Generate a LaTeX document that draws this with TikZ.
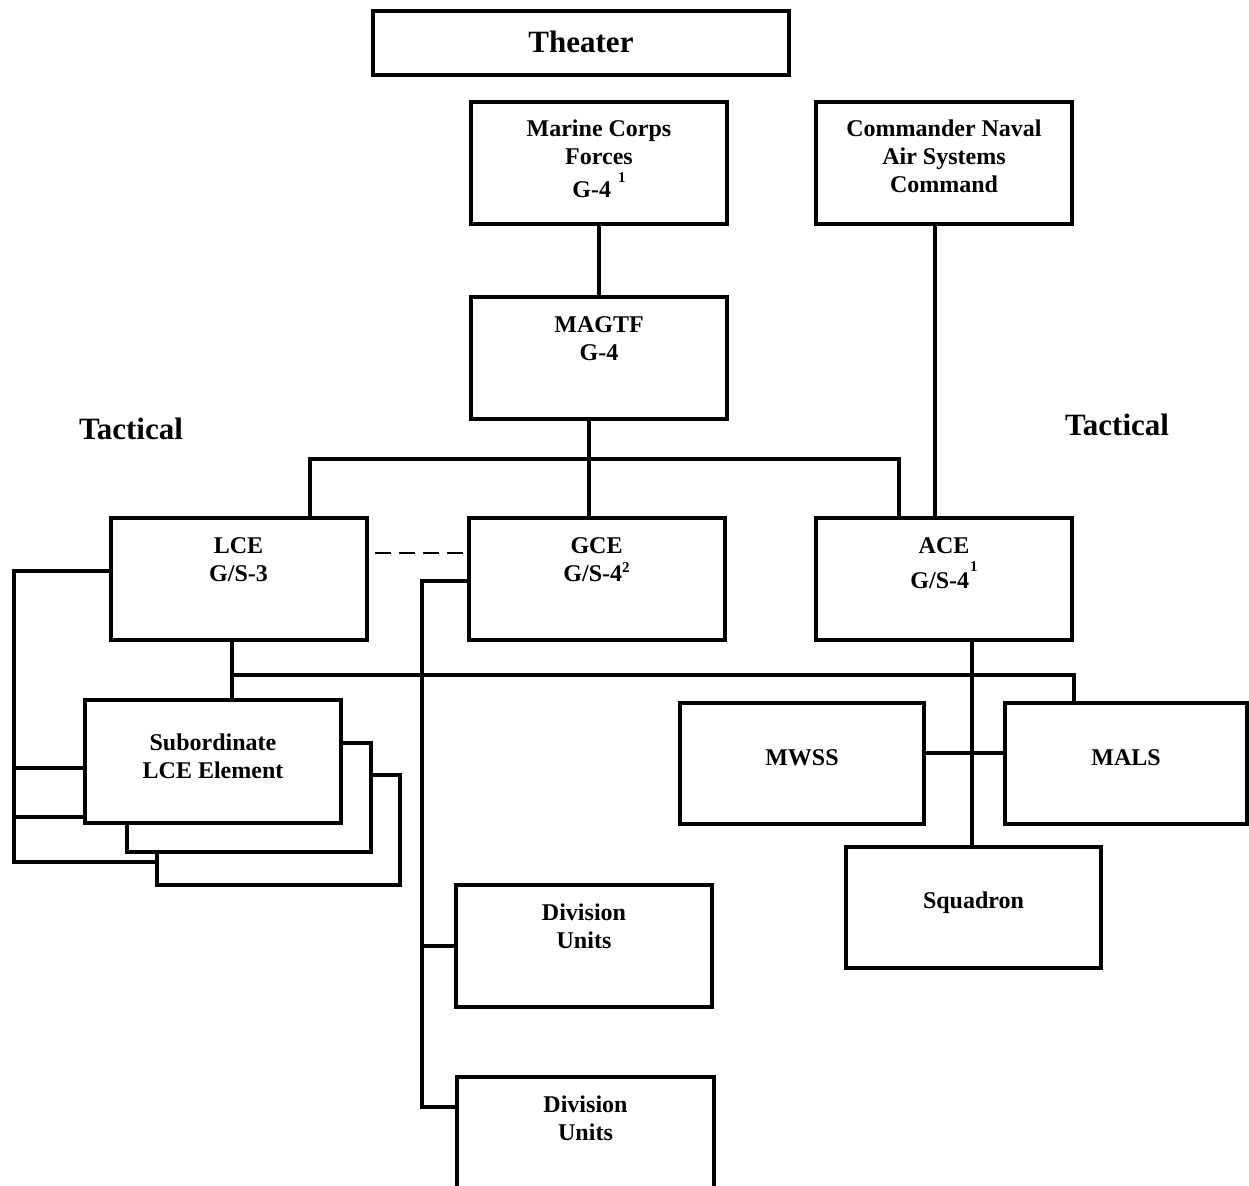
\documentclass[tikz,border=0pt]{standalone}
\usepackage{fontspec}
\setmainfont{Liberation Serif}
\usetikzlibrary{calc}
\newcommand{\bt}[1]{\begin{tabular}[t]{@{}c@{}}#1\end{tabular}}
\newcommand{\supnum}[2]{\smash{\raisebox{#2pt}{\fontsize{15}{15}\selectfont #1}}}
\tikzset{
  box/.style={draw, line width=4pt, fill=white, inner sep=0pt, outer sep=0pt},
  txt/.style={anchor=base, inner sep=0pt, font=\fontsize{24}{28}\selectfont\bfseries},
  big/.style={anchor=base, inner sep=0pt, font=\fontsize{31}{36}\selectfont\bfseries},
  conn/.style={line width=3.5pt},
  dashline/.style={line width=2.5pt, dash pattern=on 16pt off 8pt}
}
\begin{document}
\begin{tikzpicture}[x=1pt,y=-1pt]
\clip (0,0) rectangle (1249,1185);
% boxes
\node[box,minimum width=416pt,minimum height=64pt] (theater) at (581,43) {};
\node[box,minimum width=256pt,minimum height=122pt] (marine) at (599,163) {};
\node[box,minimum width=256pt,minimum height=122pt] (magtf) at (599,358) {};
\node[box,minimum width=256pt,minimum height=122pt] (cnasc) at (944,163) {};
\node[box,minimum width=256pt,minimum height=122pt] (lce) at (238.5,579) {};
\node[box,minimum width=256pt,minimum height=122pt] (gce) at (596.5,579) {};
\node[box,minimum width=256pt,minimum height=122pt] (ace) at (944,579) {};
\node[box,minimum width=243pt,minimum height=110pt] (sub3) at (278.5,830) {};
\node[box,minimum width=244pt,minimum height=109pt] (sub2) at (249,797.5) {};
\node[box,minimum width=256pt,minimum height=123pt] (sub) at (213,761.5) {};
\node[box,minimum width=244pt,minimum height=121pt] (mwss) at (802,763.5) {};
\node[box,minimum width=242pt,minimum height=121pt] (mals) at (1126,763.5) {};
\node[box,minimum width=255pt,minimum height=121pt] (squad) at (973.5,907.5) {};
\node[box,minimum width=256pt,minimum height=122pt] (div1) at (584,946) {};
\node[box,minimum width=257pt,minimum height=122pt] (div2) at (585.5,1138) {};
% texts
\node[big] (t-theater) at (581,53) {Theater};
\node[big] (t-tacl) at (131,439) {Tactical};
\node[big] (t-tacr) at (1117,435) {Tactical};
\node[txt] (t-marine) at ($(marine.north)+(0,35)$) {\bt{Marine Corps\\Forces\\[5pt]G-4\hspace{7pt}\supnum{1}{15}}};
\node[txt] (t-magtf) at ($(magtf.north)+(0,35)$) {\bt{MAGTF\\G-4}};
\node[txt] (t-cnasc) at ($(cnasc.north)+(0,35)$) {\bt{Commander Naval\\Air Systems\\Command}};
\node[txt] (t-lce) at ($(lce.north)+(0,35)$) {\bt{LCE\\G/S-3}};
\node[txt] (t-gce) at ($(gce.north)+(0,35)$) {\bt{GCE\\G/S-4\supnum{2}{9}}};
\node[txt] (t-ace) at ($(ace.north)+(0,35)$) {\bt{ACE\\[7pt]G/S-4\hspace{1pt}\supnum{1}{17}}};
\node[txt] (t-sub) at ($(sub.north)+(0,50)$) {\bt{Subordinate\\LCE Element}};
\node[txt] (t-mwss) at ($(mwss.north)+(0,62)$) {MWSS};
\node[txt] (t-mals) at ($(mals.north)+(0,62)$) {MALS};
\node[txt] (t-squad) at ($(squad.north)+(0,61)$) {Squadron};
\node[txt] (t-div1) at ($(div1.north)+(0,35)$) {\bt{Division\\Units}};
\node[txt] (t-div2) at ($(div2.north)+(0,35)$) {\bt{Division\\Units}};
% named junctions
\coordinate (bar) at (589,459);
\coordinate (tap) at (232,675);
\coordinate (acebus) at (972,753);
\coordinate (rail) at (422,581);
\coordinate (lb) at (14,571);
% connectors
\draw[conn] (marine.south) -- (magtf.north);
\draw[conn] ($(lce.north)+(71.5,0)$) |- (bar) -| ($(ace.north)+(-45,0)$);
\draw[conn] (magtf.south -| bar) -- (gce.north -| bar);
\draw[conn] ($(cnasc.south)+(-9,0)$) -- ($(ace.north)+(-9,0)$);
\draw[dashline] ($(lce.east)+(8,-26)$) -- ($(gce.west)+(0,-26)$);
\draw[conn] ($(gce.west)+(0,2)$) -- (rail) |- ($(div2.west)+(0,-31)$);
\draw[conn] (div1.west) -- (div1.west -| rail);
\draw[conn] (lce.south -| tap) -- (sub.north -| tap);
\draw[conn] (tap) -| ($(mals.north)+(-52,0)$);
\draw[conn] (ace.south -| acebus) -- (squad.north -| acebus);
\draw[conn] ($(mwss.east)+(0,-10.5)$) -- ($(mals.west)+(0,-10.5)$);
\coordinate (s3c) at ($(sub3.west)+(0,32)$);
\draw[conn] ($(lce.west)+(0,-8)$) -- (lb) |- (s3c);
\coordinate (t1) at ($(sub.west)+(0,6.5)$);
\coordinate (t2) at ($(sub.west)+(0,55.5)$);
\draw[conn] (t1) -- (t1 -| lb);
\draw[conn] (t2) -- (t2 -| lb);
\end{tikzpicture}
\end{document}
